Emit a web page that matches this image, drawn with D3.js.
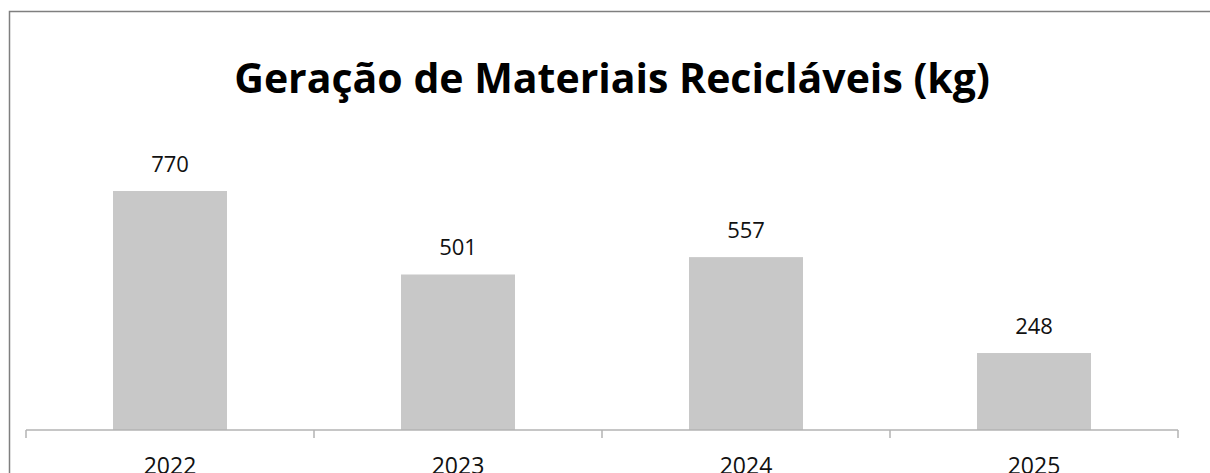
<!DOCTYPE html>
<html>
<head>
<meta charset="utf-8">
<script src="https://cdn.jsdelivr.net/npm/d3@7"></script>
<style>
  body { margin: 0; background: #fff; }
  svg { display: block; font-family: "Open Sans", sans-serif; }
</style>
</head>
<body>
<svg id="chart" width="1210" height="473"></svg>
<script>
const years = ['2022', '2023', '2024', '2025'];
const values = [770, 501, 557, 248];
const title = 'Geração de Materiais Recicláveis (kg)';

const svg = d3.select("#chart");
const width = +svg.attr("width");
const height = +svg.attr("height");

// outer frame (right/bottom edges fall outside the picture)
svg.append("path")
    .attr("d", `M9.5,${height + 5} V11.5 H${width + 5}`)
    .attr("fill", "none")
    .attr("stroke", "#7f7f7f")
    .attr("stroke-width", 1.5);

const baseY = 430;
const xScale = d3.scaleBand()
    .domain(years)
    .range([26, 1178])
    .paddingInner(0)
    .paddingOuter(0);

const yScale = d3.scaleLinear()
    .domain([0, 770])
    .range([baseY, 191]);

const barW = 114;

svg.append("text")
    .attr("x", 612)
    .attr("y", 93)
    .attr("text-anchor", "middle")
    .attr("font-size", 41)
    .attr("font-weight", "bold")
    .attr("fill", "#000")
    .text(title);

svg.selectAll(".bar")
    .data(values)
    .enter()
    .append("rect")
    .attr("class", "bar")
    .attr("x", (d, i) => xScale(years[i]) + xScale.bandwidth() / 2 - barW / 2)
    .attr("y", d => yScale(d))
    .attr("width", barW)
    .attr("height", d => baseY - yScale(d))
    .attr("fill", "#c8c8c8");

svg.selectAll(".val")
    .data(values)
    .enter()
    .append("text")
    .attr("class", "val")
    .attr("x", (d, i) => xScale(years[i]) + xScale.bandwidth() / 2)
    .attr("y", d => yScale(d) - 19)
    .attr("text-anchor", "middle")
    .attr("font-size", 22)
    .attr("fill", "#111")
    .text(d => d);

// category axis with boundary ticks
const axis = svg.append("g").attr("transform", `translate(0, ${baseY})`);
axis.append("line")
    .attr("x1", 26).attr("x2", 1178)
    .attr("stroke", "#b3b3b3").attr("stroke-width", 1.5);
const edges = years.map(y => xScale(y)).concat([xScale.range()[1]]);
axis.selectAll(".tick")
    .data(edges)
    .enter()
    .append("line")
    .attr("x1", d => d).attr("x2", d => d)
    .attr("y1", 0).attr("y2", 8)
    .attr("stroke", "#b3b3b3").attr("stroke-width", 1.5);

axis.selectAll(".cat")
    .data(years)
    .enter()
    .append("text")
    .attr("x", d => xScale(d) + xScale.bandwidth() / 2)
    .attr("y", 44)
    .attr("text-anchor", "middle")
    .attr("font-size", 23)
    .attr("fill", "#111")
    .text(d => d);
</script>
</body>
</html>
